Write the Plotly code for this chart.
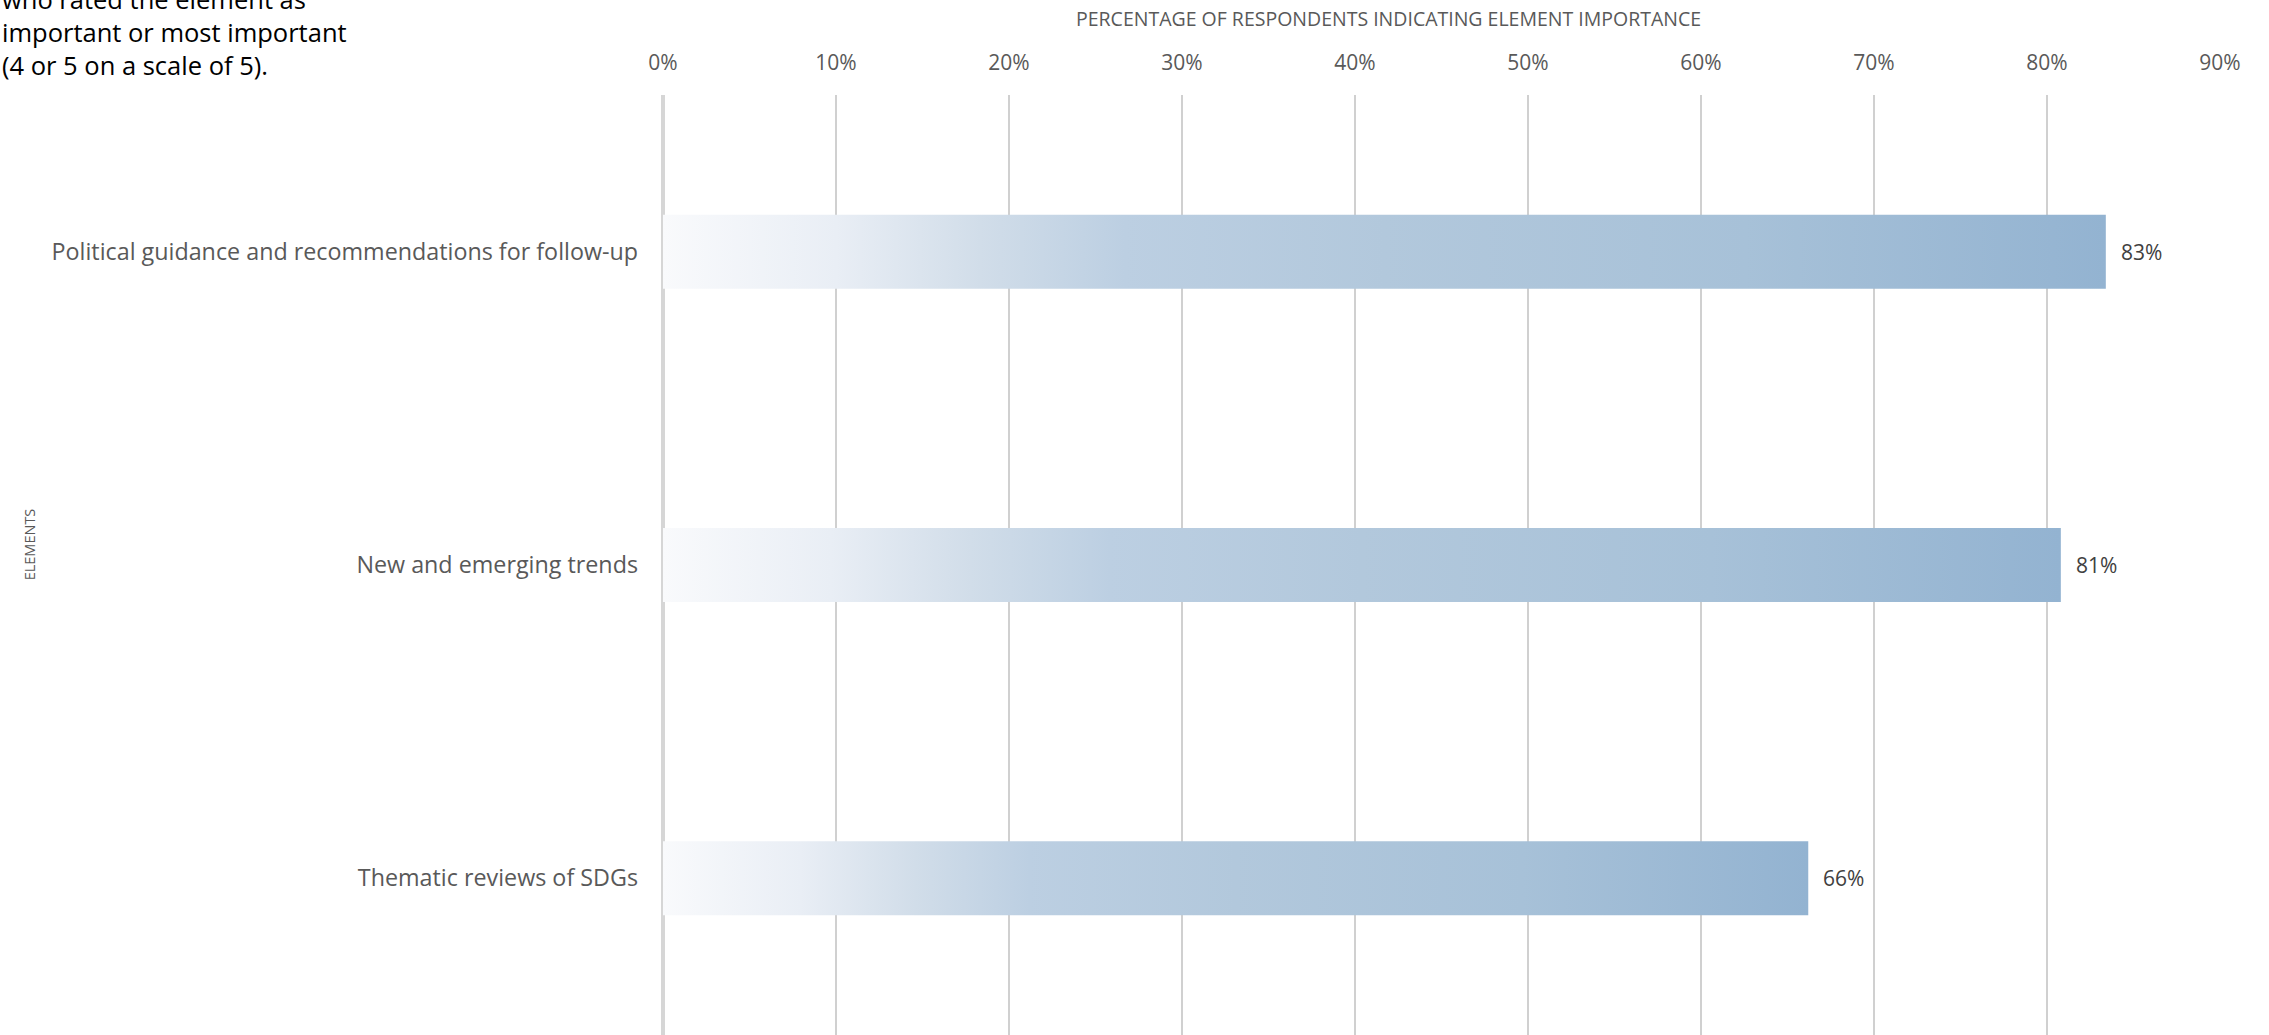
import plotly.graph_objects as go

categories = ["Political guidance and recommendations for follow-up",
              "New and emerging trends",
              "Thematic reviews of SDGs"]
values = [0.834, 0.808, 0.662]
value_labels = ["83%", "81%", "66%"]
tick_vals = [0, 0.1, 0.2, 0.3, 0.4, 0.5, 0.6, 0.7, 0.8, 0.9]
tick_text = ["0%", "10%", "20%", "30%", "40%", "50%", "60%", "70%", "80%", "90%"]
note_lines = ["who rated the element as", "important or most important", "(4 or 5 on a scale of 5)."]

FONT = "Open Sans"
GREY = "#595959"
half = 0.118
scale = [[0.0, "#f9fafc"], [0.12, "#e9eef5"], [0.22, "#d1dde9"], [0.32, "#bccfe2"],
         [0.5, "#b2c8dc"], [0.75, "#a7c1d8"], [1.0, "#93b3d1"]]

fig = go.Figure()
for i, (c, v) in enumerate(zip(categories, values)):
    fig.add_trace(go.Scatter(
        x=[0, v, v, 0, 0],
        y=[i - half, i - half, i + half, i + half, i - half],
        mode="lines", line=dict(width=0), fill="toself",
        fillgradient=dict(type="horizontal", colorscale=scale, start=0, stop=v),
        hoverinfo="skip", showlegend=False,
    ))
    fig.add_annotation(x=v, y=i, text=value_labels[i], showarrow=False,
                       xanchor="left", xshift=13,
                       font=dict(family=FONT, size=21, color="#404040"))

fig.add_annotation(x=0, y=1, xref="paper", yref="paper", xanchor="left", yanchor="top",
                   xshift=-663, yshift=115, align="left", showarrow=False,
                   text="<br>".join(note_lines),
                   font=dict(family=FONT, size=25.5, color="#000000"))
fig.add_annotation(x=0.466, y=1, xref="paper", yref="paper", xanchor="center", yanchor="middle",
                   yshift=77, showarrow=False,
                   text="PERCENTAGE OF RESPONDENTS INDICATING ELEMENT IMPORTANCE",
                   font=dict(family=FONT, size=19.5, color=GREY))
fig.add_annotation(x=0, y=0.522, xref="paper", yref="paper", xanchor="center", yanchor="middle",
                   xshift=-634, textangle=-90, showarrow=False, text="ELEMENTS",
                   font=dict(family=FONT, size=14.5, color=GREY))

fig.update_layout(
    width=2269, height=1035,
    margin=dict(l=663, r=49, t=95, b=0),
    paper_bgcolor="white", plot_bgcolor="white",
    font=dict(family=FONT, color=GREY),
    xaxis=dict(range=[0, 0.9], side="top", tickvals=tick_vals, ticktext=tick_text,
               showgrid=True, gridcolor="#d0d0d0", gridwidth=2,
               zeroline=True, zerolinecolor="#d6d6d6", zerolinewidth=4,
               showline=False, ticks="", ticklabelstandoff=20,
               tickfont=dict(family=FONT, size=21, color=GREY)),
    yaxis=dict(range=[2.5, -0.5], tickvals=[0, 1, 2], ticktext=categories,
               showgrid=False, zeroline=False, showline=False, ticks="",
               ticklabelstandoff=24,
               tickfont=dict(family=FONT, size=23.3, color=GREY)),
)
fig.write_html("out.html", config={"displayModeBar": False},
               post_script="document.body.style.margin='0';")
